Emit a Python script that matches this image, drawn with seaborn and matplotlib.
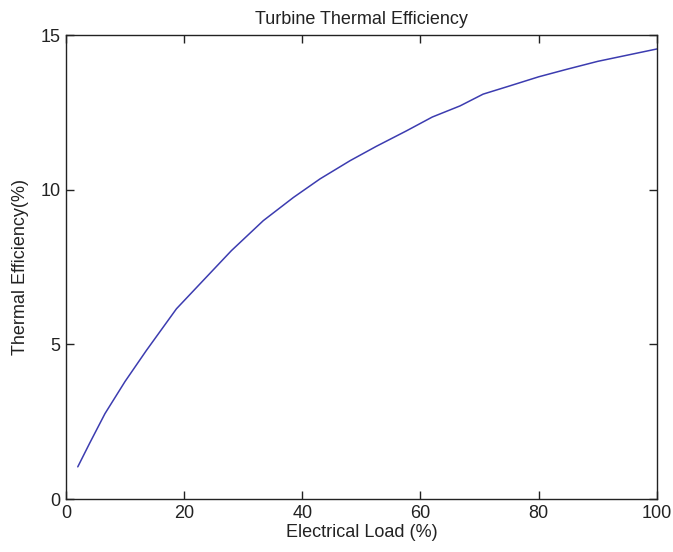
import matplotlib
matplotlib.use("Agg")
import matplotlib.pyplot as plt
import seaborn as sns
import pandas as pd

load_pct = [2, 4, 6.6, 10, 13.6, 18.7, 23.2, 28, 33.4, 38.5, 43, 48.1, 52.5, 57.6, 62, 66.7,
            70.6, 75, 80, 84.7, 90, 95, 100]
efficiency = [1.04, 1.8, 2.76, 3.8, 4.8, 6.15, 7.06, 8.03, 9.0, 9.75, 10.35, 10.94, 11.4,
              11.9, 12.35, 12.71, 13.09, 13.35, 13.65, 13.89, 14.15, 14.35, 14.55]
x_ticks = [0, 20, 40, 60, 80, 100]
y_ticks = [0, 5, 10, 15]

sns.set_style("ticks")
plt.rcParams['font.family'] = ['Liberation Sans', 'DejaVu Sans']

df = pd.DataFrame({"load": load_pct, "eff": efficiency})

fig = plt.figure(figsize=(6.73, 5.52), dpi=100)
ax = fig.add_axes([0.098, 0.096, 0.878, 0.8405])
sns.lineplot(data=df, x="load", y="eff", ax=ax, color="#3c3cb0", linewidth=1.1)

ax.set_xlim(0, 100)
ax.set_ylim(0, 15)
ax.set_xticks(x_ticks)
ax.set_yticks(y_ticks)
ax.tick_params(direction="in", length=6, width=1, top=True, right=True,
               labelsize=13, colors="#222222", pad=4)
for s in ax.spines.values():
    s.set_visible(True)
    s.set_color("#222222")
    s.set_linewidth(1)
ax.set_xlabel("Electrical Load (%)", fontsize=13, color="#222222", labelpad=2)
ax.set_ylabel("Thermal Efficiency(%)", fontsize=13, color="#222222", labelpad=8)
ax.set_title("Turbine Thermal Efficiency", fontsize=13, color="#222222", pad=8)

fig.savefig("out.png", dpi=100)
